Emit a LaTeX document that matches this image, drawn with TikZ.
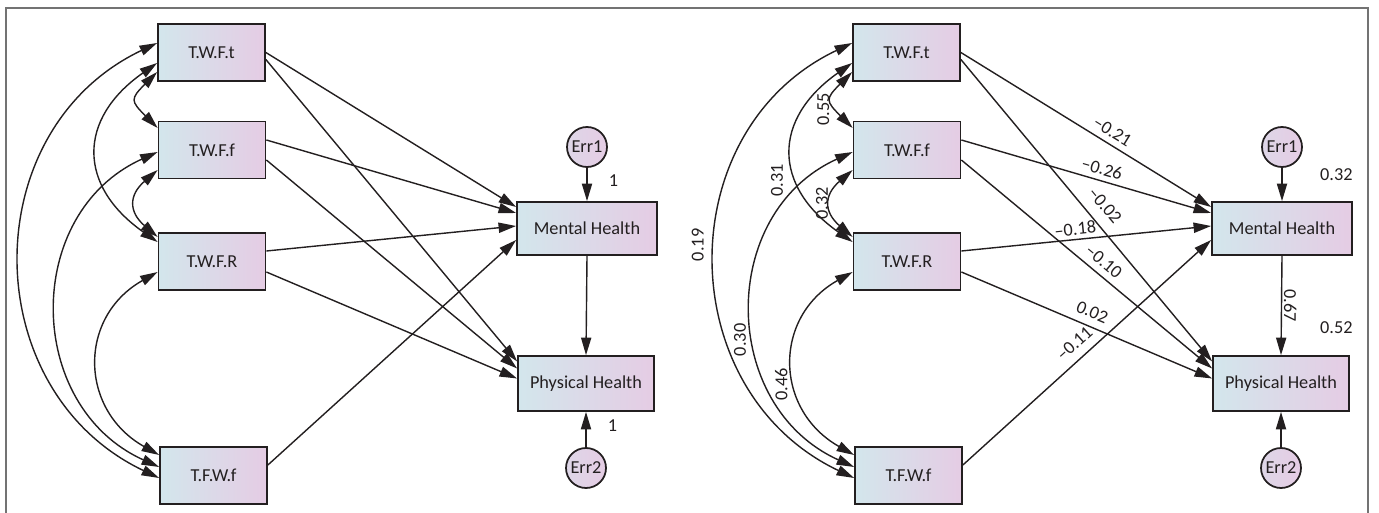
\documentclass[tikz,border=0pt]{standalone}
\usepackage{fontspec}
\setmainfont{Carlito}
\usetikzlibrary{arrows.meta,calc}

\definecolor{boxleft}{RGB}{211,230,236}
\definecolor{boxright}{RGB}{229,204,228}
\definecolor{ink}{RGB}{35,31,32}

\tikzset{
  var/.style={draw=ink, line width=1pt, left color=boxleft, right color=boxright,
    text=ink, font=\fontsize{10.4}{12}\selectfont, inner sep=0pt,
    minimum width=2.14cm, minimum height=1.14cm},
  err/.style={circle, draw=ink, line width=1pt, left color=boxleft!40!boxright,
    right color=boxright, text=ink, font=\fontsize{10.4}{12}\selectfont,
    inner sep=0pt, minimum size=0.8cm},
  effect/.style={->, draw=ink, line width=0.8pt},
  cov/.style={<->, draw=ink, line width=0.8pt},
  coef/.style={text=ink, font=\fontsize{10.4}{12}\selectfont, inner sep=1pt},
  panelframe/.style={draw=black!55, line width=1.2pt},
}

\begin{document}
\begin{tikzpicture}[x=0.02cm, y=-0.02cm, >={Triangle[length=10pt,width=5.8pt]}]
    \useasboundingbox (0,0) rectangle (1379,513);
    \draw[panelframe] (6,513) -- (6,8) -- (1368,8) -- (1368,513);

    % left model: fixed error paths
    \node[var] (lt) at (211.5,52.5) {T.W.F.t};
    \node[var] (lf) at (212,150) {T.W.F.f};
    \node[var] (lr) at (212,261.5) {T.W.F.R};
    \node[var] (lw) at (213.5,475.5) {T.F.W.f};
    \node[var, minimum width=2.8cm, minimum height=1.06cm] (lmh) at (587,228.5) {Mental Health};
    \node[var, minimum width=2.72cm, minimum height=1.1cm] (lph) at (586,383.5) {Physical Health};
    \node[err] (le1) at (587,147) {Err1};
    \node[err] (le2) at (586,468) {Err2};

    \draw[cov] ($(lf.west)+(0,-22)$) .. controls +(-27,-27) and +(-27,27) .. ($(lt.west)+(0,19.5)$);
    \draw[cov] ($(lr.west)+(0,-24.5)$) .. controls +(-29,-25) and +(-29,25) .. ($(lf.west)+(0,20)$);
    \draw[cov] ($(lr.west)+(0,-19.5)$) .. controls +(-80,-56) and +(-80,56) .. ($(lt.west)+(0,10.5)$);
    \draw[cov] ($(lw.west)+(0,-20.5)$) .. controls +(-80,-45) and +(-80,45) .. ($(lr.west)+(0,10.5)$);
    \draw[cov] ($(lw.west)+(0,-8.5)$) .. controls +(-135,-61) and +(-135,61) .. ($(lf.west)+(0,2)$);
    \draw[cov] ($(lw.west)+(0,2.5)$) .. controls +(-183,-87) and +(-183,87) .. ($(lt.west)+(0,-9.5)$);

    \draw[effect] (lt.east) -- ($(lmh.west)+(0,-21.5)$);
    \draw[effect] ($(lt.east)+(0,7)$) -- ($(lph.west)+(0,-22)$);
    \draw[effect] ($(lf.east)+(0,-10)$) -- ($(lmh.west)+(0,-15.5)$);
    \draw[effect] ($(lf.east)+(0,10)$) -- ($(lph.west)+(0,-15)$);
    \draw[effect] ($(lr.east)+(0,-10.5)$) -- ($(lmh.west)+(0,-2.5)$);
    \draw[effect] ($(lr.east)+(0,10.5)$) -- ($(lph.west)+(0,-5)$);
    \draw[effect] ($(lw.east)+(0,-10.5)$) -- ($(lmh.west)+(0,11.5)$);
    \draw[effect] (lmh.south) -- (lph.north);
    \draw[effect] (le1) -- node[coef, pos=0.37, right=11pt] {1} (lmh.north);
    \draw[effect] (le2) -- node[coef, pos=0.6, right=11pt] {1} (lph.south);

    % right model: standardised estimates
    \node[var] (rt) at (906.5,52.5) {T.W.F.t};
    \node[var] (rf) at (907,150) {T.W.F.f};
    \node[var] (rr) at (907,261.5) {T.W.F.R};
    \node[var] (rw) at (908.5,475.5) {T.F.W.f};
    \node[var, minimum width=2.8cm, minimum height=1.06cm] (rmh) at (1282,228.5) {Mental Health};
    \node[var, minimum width=2.72cm, minimum height=1.1cm] (rph) at (1281,383.5) {Physical Health};
    \node[err] (re1) at (1282,147) {Err1};
    \node[err] (re2) at (1281,468) {Err2};
    \node[coef] (rsqm) at ($(rmh.north east)+(-16.5,-26)$) {0.32};
    \node[coef] (rsqp) at ($(rph.north east)+(-13.5,-27)$) {0.52};

    \draw[cov] ($(rf.west)+(0,-22)$) .. controls +(-27,-27) and +(-27,27) .. node[coef, pos=0.3, xshift=-2.2pt, rotate=90, anchor=south] {0.55} ($(rt.west)+(0,19.5)$);
    \draw[cov] ($(rr.west)+(0,-24.5)$) .. controls +(-29,-25) and +(-29,25) .. node[coef, midway, xshift=-0.3pt, rotate=90, anchor=south] {0.32} ($(rf.west)+(0,20)$);
    \draw[cov] ($(rr.west)+(0,-19.5)$) .. controls +(-80,-56) and +(-80,56) .. node[coef, pos=0.35, xshift=-7pt, rotate=90, anchor=south] {0.31} ($(rt.west)+(0,10.5)$);
    \draw[cov] ($(rw.west)+(0,-20.5)$) .. controls +(-80,-45) and +(-80,45) .. node[coef, pos=0.4, xshift=-3.5pt, rotate=90, anchor=south] {0.46} ($(rr.west)+(0,10.5)$);
    \draw[cov] ($(rw.west)+(0,-8.5)$) .. controls +(-135,-61) and +(-135,61) .. node[coef, pos=0.42, xshift=-3.7pt, rotate=90, anchor=south] {0.30} ($(rf.west)+(0,2)$);
    \draw[cov] ($(rw.west)+(0,2.5)$) .. controls +(-183,-87) and +(-183,87) .. node[coef, pos=0.53, xshift=-5.7pt, rotate=90, anchor=south] {0.19} ($(rt.west)+(0,-9.5)$);

    \draw[effect] (rt.east) -- node[coef, sloped, pos=0.58, above=2.2pt] {--0.21} ($(rmh.west)+(0,-21.5)$);
    \draw[effect] ($(rt.east)+(0,7)$) -- node[coef, sloped, pos=0.52, above=5.1pt] {--0.02} ($(rph.west)+(0,-22)$);
    \draw[effect] ($(rf.east)+(0,-10)$) -- node[coef, sloped, pos=0.55, above=1.8pt] {--0.26} ($(rmh.west)+(0,-15.5)$);
    \draw[effect] ($(rf.east)+(0,10)$) -- node[coef, sloped, pos=0.535, above=2.6pt] {--0.10} ($(rph.west)+(0,-15)$);
    \draw[effect] ($(rr.east)+(0,-10.5)$) -- node[coef, sloped, pos=0.46, above=1.1pt] {--0.18} ($(rmh.west)+(0,-2.5)$);
    \draw[effect] ($(rr.east)+(0,10.5)$) -- node[coef, sloped, pos=0.5, above=3.3pt] {0.02} ($(rph.west)+(0,-5)$);
    \draw[effect] ($(rw.east)+(0,-10.5)$) -- node[coef, sloped, pos=0.49, above=3.8pt] {--0.11} ($(rmh.west)+(0,11.5)$);
    \draw[effect] (rmh.south) -- node[coef, midway, rotate=-90, anchor=south] {0.67} (rph.north);
    \draw[effect] (re1) -- (rmh.north);
    \draw[effect] (re2) -- (rph.south);
\end{tikzpicture}
\end{document}
